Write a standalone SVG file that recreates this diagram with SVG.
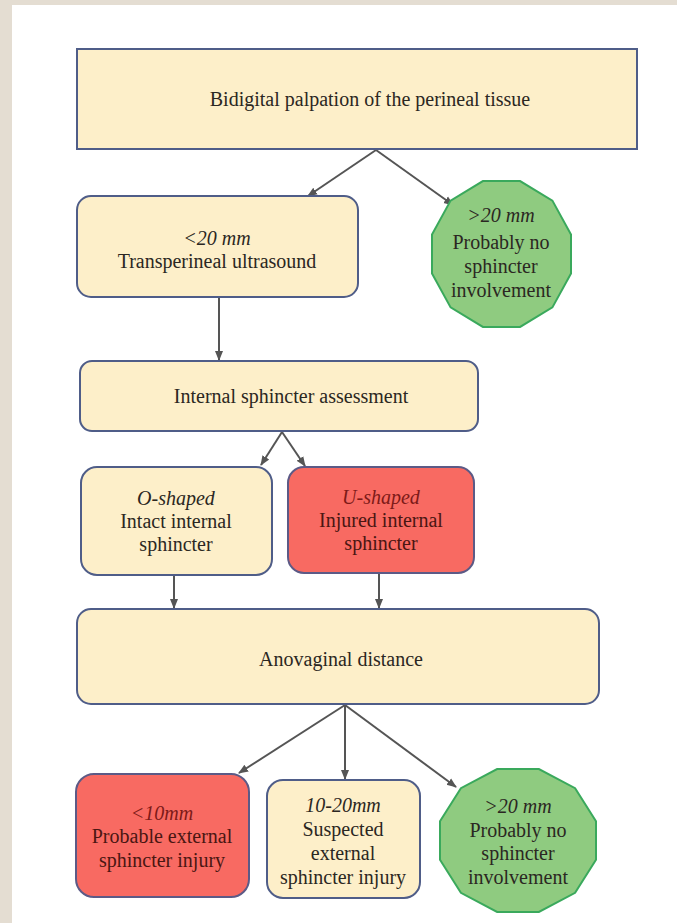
<svg xmlns="http://www.w3.org/2000/svg" width="677" height="923" viewBox="0 0 677 923">
<style>
.box{fill:#fdefc9;stroke:#4f5d88;stroke-width:2}
.red{fill:#f86a62;stroke:#5c5a86;stroke-width:2}
.grn{fill:#8fcb80;stroke:#3aa95c;stroke-width:2}
text{font-family:"Liberation Serif","Times New Roman",serif;font-size:20px;fill:#2b2722;text-anchor:middle}
.it{font-style:italic}
.rt{fill:#4a1612}
.rit{fill:#7d1a18;font-style:italic}
.con{stroke:#555;stroke-width:2;fill:none;marker-end:url(#ah)}
</style>
<defs>
<marker id="ah" markerUnits="userSpaceOnUse" markerWidth="10" markerHeight="10" viewBox="0 0 10 10" refX="9" refY="5" orient="auto">
<path d="M0,1 L10,5 L0,9 Z" fill="#555"/>
</marker>
</defs>
<rect x="0" y="0" width="677" height="923" fill="#e4ddd2"/>
<rect x="12" y="5" width="665" height="918" fill="#ffffff"/>
<g id="connectors">
<line class="con" x1="376" y1="150" x2="308" y2="196"/>
<line class="con" x1="376" y1="150" x2="453" y2="205"/>
<line class="con" x1="219" y1="297" x2="219" y2="360"/>
<line class="con" x1="282" y1="432" x2="261" y2="465"/>
<line class="con" x1="282" y1="432" x2="305" y2="466"/>
<line class="con" x1="174" y1="576" x2="174" y2="608"/>
<line class="con" x1="379" y1="574" x2="379" y2="608"/>
<line class="con" x1="345" y1="705" x2="239" y2="773"/>
<line class="con" x1="345" y1="705" x2="345" y2="779"/>
<line class="con" x1="345" y1="705" x2="456" y2="787"/>
</g>
<g id="n_top">
<rect class="box" x="77" y="49" width="560" height="100"/>
<text x="370" y="106">Bidigital palpation of the perineal tissue</text>
</g>
<g id="n_us">
<rect class="box" x="77" y="196" width="281" height="101" rx="14"/>
<text class="it" x="217" y="245">&lt;20 mm</text>
<text x="217" y="268">Transperineal ultrasound</text>
</g>
<g id="n_no1">
<polygon class="grn" points="571,273.5 552.4,307.4 520.1,326.9 482.9,326.9 450.6,307.4 432,273.5 432,234.5 450.6,200.6 482.9,181.1 520.1,181.1 552.4,200.6 571,234.5"/>
<text class="it" x="501" y="222">&gt;20 mm</text>
<text x="501" y="249">Probably no</text>
<text x="501" y="273">sphincter</text>
<text x="501" y="297">involvement</text>
</g>
<g id="n_isa">
<rect class="box" x="80" y="361" width="398" height="70" rx="12"/>
<text x="291" y="403">Internal sphincter assessment</text>
</g>
<g id="n_o">
<rect class="box" x="81" y="467" width="191" height="108" rx="16"/>
<text class="it" x="176" y="505">O-shaped</text>
<text x="176" y="528">Intact internal</text>
<text x="176" y="551">sphincter</text>
</g>
<g id="n_u">
<rect class="red" x="288" y="467" width="186" height="106" rx="16"/>
<text class="rit" x="381" y="504">U-shaped</text>
<text class="rt" x="381" y="527">Injured internal</text>
<text class="rt" x="381" y="550">sphincter</text>
</g>
<g id="n_av">
<rect class="box" x="77" y="609" width="522" height="95" rx="14"/>
<text x="341" y="666">Anovaginal distance</text>
</g>
<g id="n_lt10">
<rect class="red" x="76" y="774" width="173" height="123" rx="18"/>
<text class="rit" x="162" y="820">&lt;10mm</text>
<text class="rt" x="162" y="843">Probable external</text>
<text class="rt" x="162" y="867">sphincter injury</text>
</g>
<g id="n_mid">
<rect class="box" x="267" y="780" width="153" height="118" rx="16"/>
<text class="it" x="343" y="812">10-20mm</text>
<text x="343" y="836">Suspected</text>
<text x="343" y="860">external</text>
<text x="343" y="884">sphincter injury</text>
</g>
<g id="n_no2">
<polygon class="grn" points="596,859.7 575.1,892.8 538.9,912 497.1,912 460.9,892.8 440,859.7 440,821.3 460.9,788.2 497.1,769 538.9,769 575.1,788.2 596,821.3"/>
<text class="it" x="518" y="813">&gt;20 mm</text>
<text x="518" y="837">Probably no</text>
<text x="518" y="860">sphincter</text>
<text x="518" y="884">involvement</text>
</g>
</svg>
